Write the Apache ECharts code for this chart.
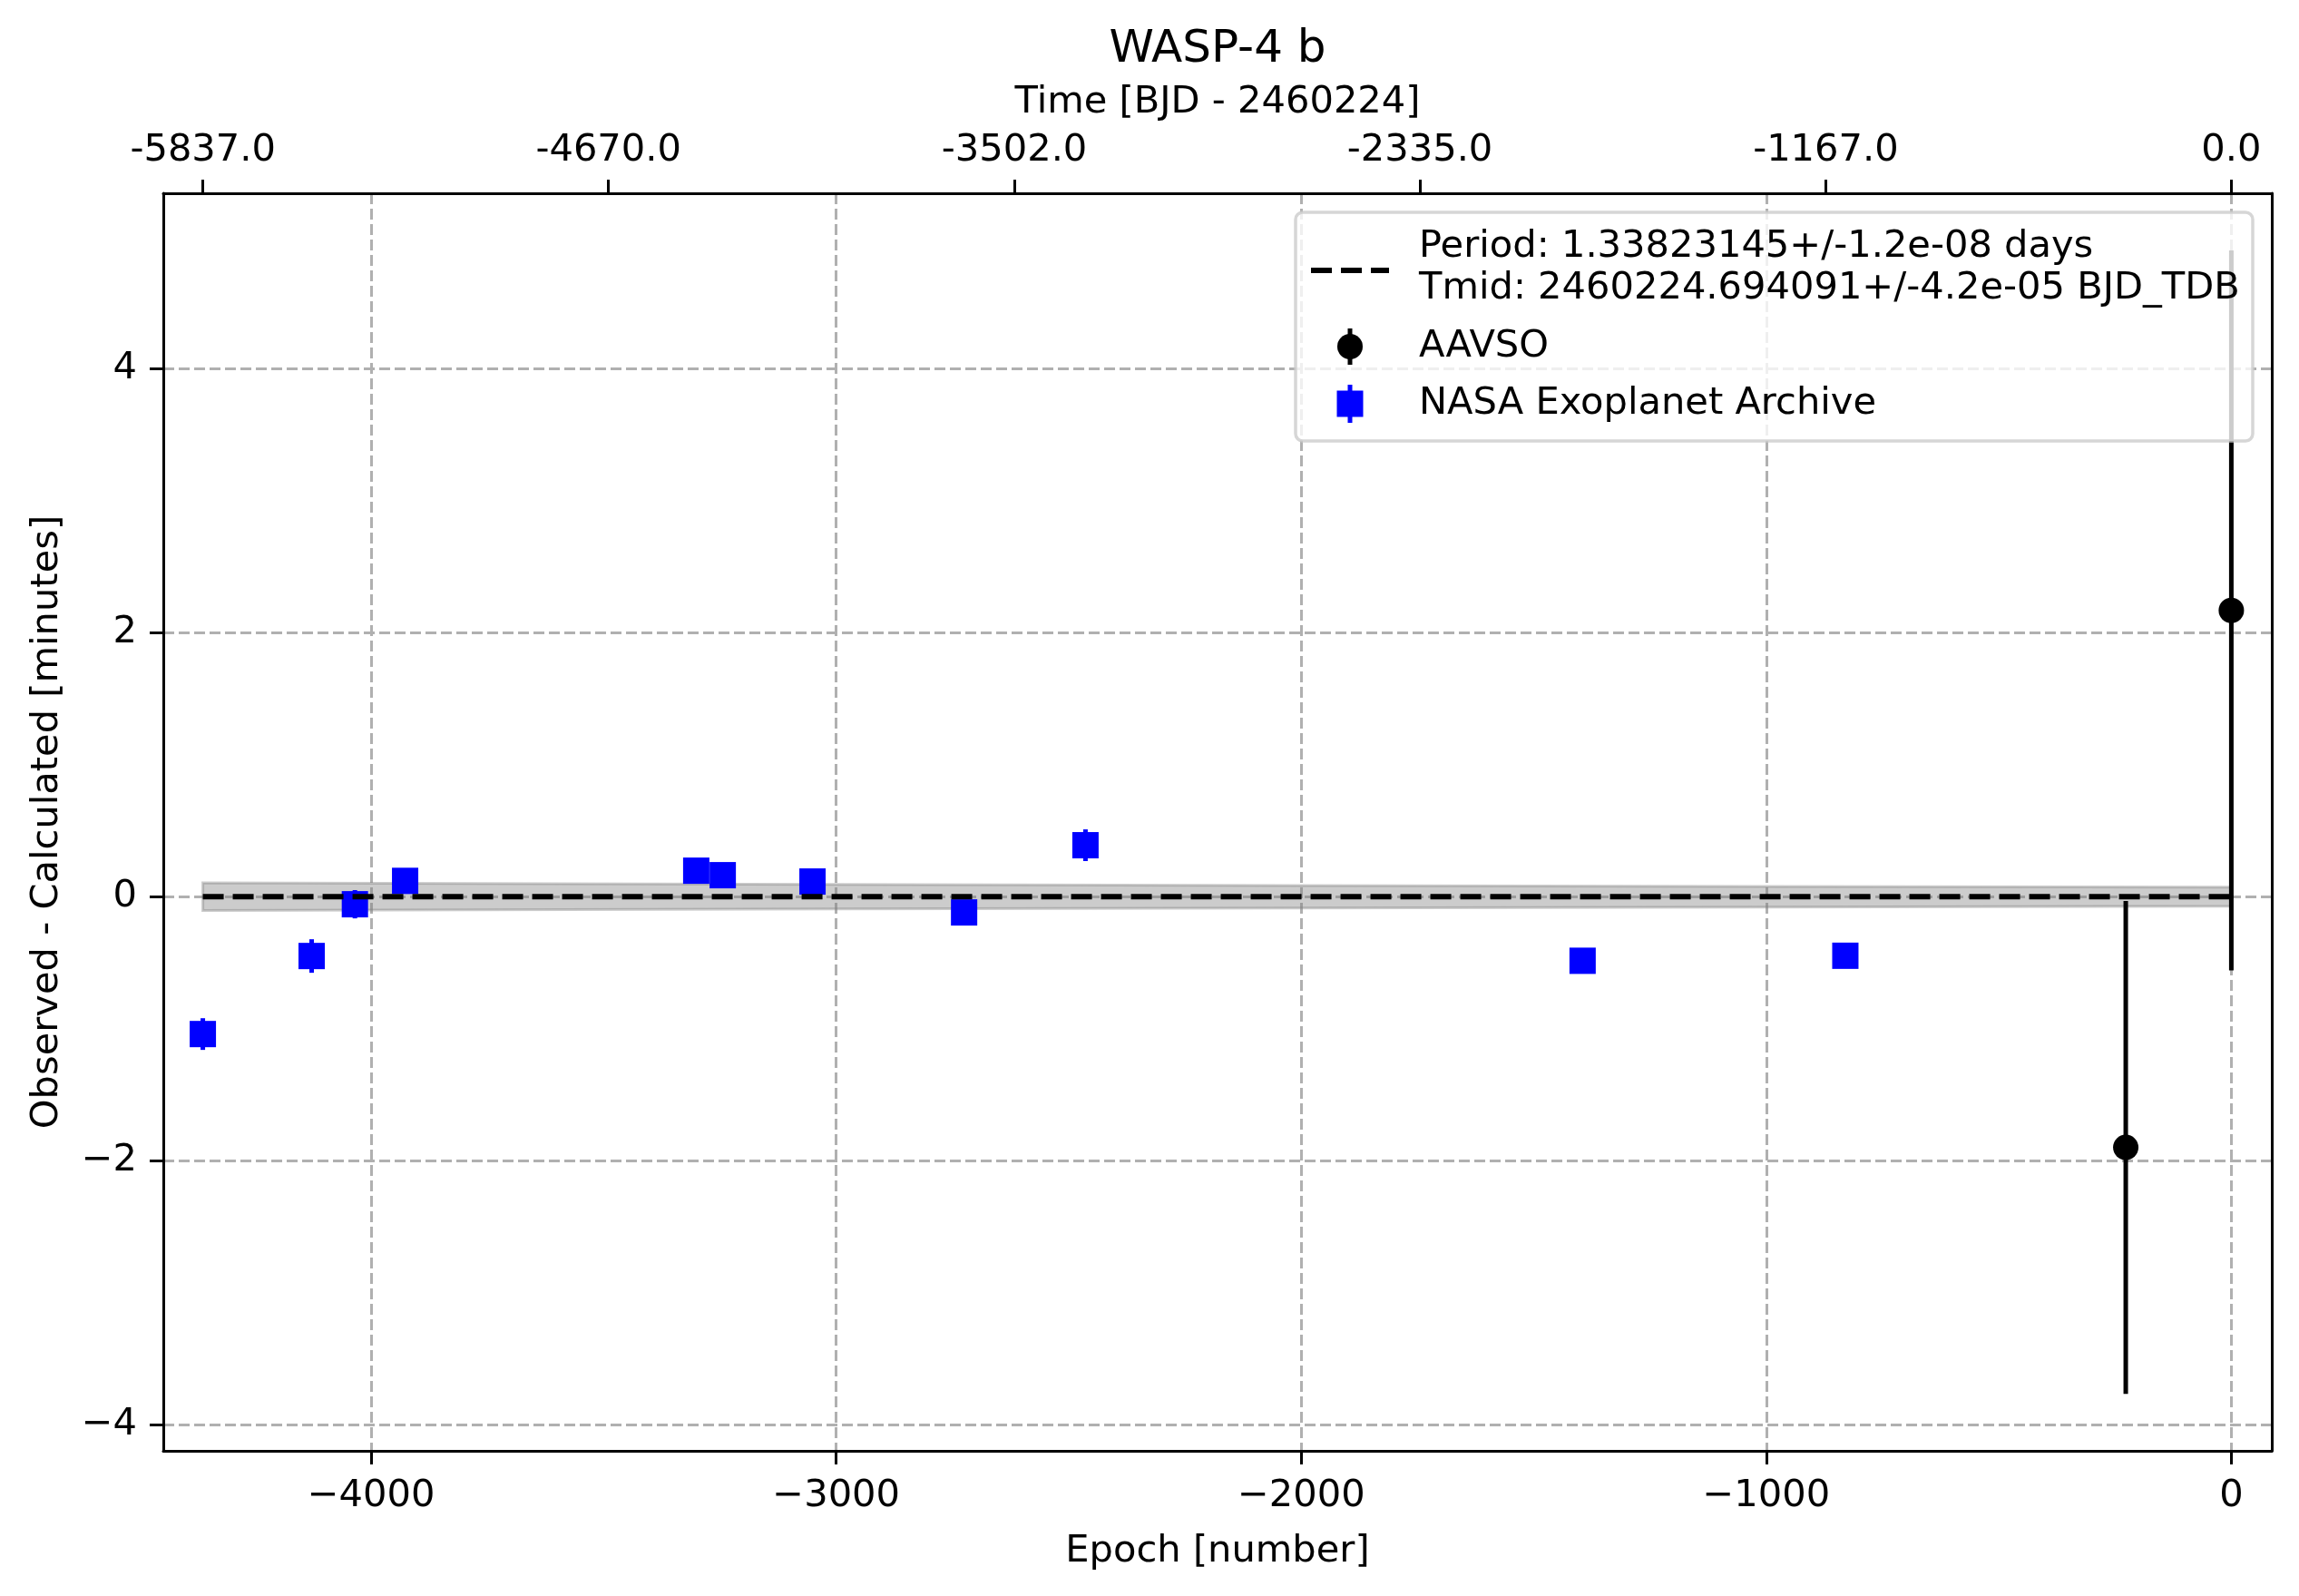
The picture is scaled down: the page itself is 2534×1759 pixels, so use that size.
<!DOCTYPE html>
<html style="height: 100%">
<head>
    <meta charset="utf-8">
</head>
<body style="height: 100%; margin: 0; background: #fff">
<div id="container" style="width: 2534px; height: 1759px"></div>
<script type="text/javascript" src="https://cdn.jsdelivr.net/npm/echarts@6/dist/echarts.min.js"></script>
<script type="text/javascript">
    var period = 1.33823145;

    // NASA Exoplanet Archive mid-transit residuals
    var nasaEpoch = [-4362, -4128, -4035, -3927, -3301, -3244, -3051, -2725, -2464, -1395, -830];
    var nasaOC = [-1.04, -0.449, -0.057, 0.12, 0.197, 0.163, 0.115, -0.119, 0.39, -0.485, -0.447];
    var nasaErr = [0.12, 0.127, 0.107, 0.06, 0.05, 0.05, 0.05, 0.05, 0.12, 0.05, 0.05];

    // AAVSO residuals
    var aavsoEpoch = [-227, 0];
    var aavsoOC = [-1.898, 2.168];
    var aavsoErr = [1.866, 2.726];

    // linear ephemeris and its uncertainty band
    var fitEpoch = [-4362, 0];
    var fitOC = [0, 0];
    var bandEpoch = [-4362, -3000, -2000, -1000, 0];
    var bandHalf = [0.105, 0.093, 0.085, 0.078, 0.072];

    var xTicks = [-4000, -3000, -2000, -1000, 0];
    var yTicks = [-4, -2, 0, 2, 4];
    var topTickTimes = [-5837.0, -4670.0, -3502.0, -2335.0, -1167.0, 0.0];

    var xMin = -4447, xMax = 87;
    var yMin = -4.196, yMax = 5.327;
    var FONT = 'DejaVu Sans';
    var FS = 41.6;

    var dom = document.getElementById("container");
    var myChart = echarts.init(dom);

    function minus(v) {
        return v < 0 ? '\u2212' + Math.abs(v) : '' + v;
    }

    function errorBars(xs, ys, errs, color, width) {
        return {
            type: 'custom',
            z: 2,
            silent: true,
            data: xs.map(function (x, i) {
                return [x, ys[i] - errs[i], ys[i] + errs[i]];
            }),
            encode: {x: 0, y: [1, 2]},
            renderItem: function (params, api) {
                var lo = api.coord([api.value(0), api.value(1)]);
                var hi = api.coord([api.value(0), api.value(2)]);
                return {
                    type: 'line',
                    shape: {x1: lo[0], y1: lo[1], x2: hi[0], y2: hi[1]},
                    style: {stroke: color, lineWidth: width}
                };
            }
        };
    }

    var axisLine = {show: true, onZero: false, lineStyle: {color: '#000', width: 3}};
    var axisTick = {show: true, length: 15, lineStyle: {color: '#000', width: 3}};
    var labelStyle = {color: '#000', fontFamily: FONT, fontSize: FS};
    var txtFont = FS + 'px "DejaVu Sans"';

    var option = {
        animation: false,
        backgroundColor: '#fff',
        grid: {left: 180, top: 213, width: 2324, height: 1386, containLabel: false},
        xAxis: [{
            type: 'value',
            position: 'bottom',
            min: xMin,
            max: xMax,
            axisLine: axisLine,
            axisTick: Object.assign({customValues: xTicks}, axisTick),
            axisLabel: Object.assign({customValues: xTicks, margin: 29, formatter: minus}, labelStyle),
            splitLine: {show: true, lineStyle: {color: '#b0b0b0', width: 3, type: [12, 5]}}
        }, {
            type: 'value',
            position: 'top',
            min: xMin,
            max: xMax,
            axisLine: axisLine,
            axisTick: Object.assign({customValues: topTickTimes.map(function (t) { return t / period; })}, axisTick),
            axisLabel: Object.assign({
                customValues: topTickTimes.map(function (t) { return t / period; }),
                margin: 26,
                formatter: function (v) {
                    var best = topTickTimes[0];
                    topTickTimes.forEach(function (t) {
                        if (Math.abs(t - v * period) < Math.abs(best - v * period)) best = t;
                    });
                    return best.toFixed(1);
                }
            }, labelStyle),
            splitLine: {show: false}
        }],
        yAxis: [{
            type: 'value',
            position: 'left',
            min: yMin,
            max: yMax,
            axisLine: axisLine,
            axisTick: Object.assign({customValues: yTicks}, axisTick),
            axisLabel: Object.assign({customValues: yTicks, margin: 29, formatter: minus}, labelStyle),
            splitLine: {show: true, lineStyle: {color: '#b0b0b0', width: 3, type: [12, 5]}}
        }, {
            type: 'value',
            position: 'right',
            min: yMin,
            max: yMax,
            axisLine: axisLine,
            axisTick: {show: false},
            axisLabel: {show: false},
            splitLine: {show: false}
        }],
        series: [{
            // uncertainty band of the ephemeris
            type: 'custom',
            z: 1,
            silent: true,
            data: bandEpoch.map(function (x, i) { return [x, -bandHalf[i], bandHalf[i]]; }),
            encode: {x: 0, y: [1, 2]},
            renderItem: function (params, api) {
                if (params.dataIndex !== 0) return null;
                var pts = [];
                for (var i = 0; i < bandEpoch.length; i++) {
                    pts.push(api.coord([bandEpoch[i], bandHalf[i]]));
                }
                for (var j = bandEpoch.length - 1; j >= 0; j--) {
                    pts.push(api.coord([bandEpoch[j], -bandHalf[j]]));
                }
                return {
                    type: 'polygon',
                    shape: {points: pts},
                    style: {fill: 'rgba(128,128,128,0.4)', stroke: 'rgba(128,128,128,0.4)', lineWidth: 3}
                };
            }
        },
            errorBars(nasaEpoch, nasaOC, nasaErr, '#0000ff', 5),
            errorBars(aavsoEpoch, aavsoOC, aavsoErr, '#000000', 5),
            {
                name: 'NASA Exoplanet Archive',
                type: 'scatter',
                z: 3,
                symbol: 'rect',
                symbolSize: 29,
                itemStyle: {color: '#0000ff', opacity: 1},
                data: nasaEpoch.map(function (x, i) { return [x, nasaOC[i]]; })
            }, {
                name: 'AAVSO',
                type: 'scatter',
                z: 3,
                symbol: 'circle',
                symbolSize: 28,
                itemStyle: {color: '#000000', opacity: 1},
                data: aavsoEpoch.map(function (x, i) { return [x, aavsoOC[i]]; })
            }, {
                name: 'fit',
                type: 'line',
                z: 4,
                symbol: 'none',
                lineStyle: {color: '#000', width: 6, type: [23, 10]},
                data: fitEpoch.map(function (x, i) { return [x, fitOC[i]]; })
            }],
        graphic: [
            {type: 'text', x: 1342, y: 55, style: {text: 'WASP-4 b', font: '50px "DejaVu Sans"', fill: '#000', align: 'center', verticalAlign: 'middle'}},
            {type: 'text', x: 1342, y: 113, style: {text: 'Time [BJD - 2460224]', font: txtFont, fill: '#000', align: 'center', verticalAlign: 'middle'}},
            {type: 'text', x: 1342, y: 1710, style: {text: 'Epoch [number]', font: txtFont, fill: '#000', align: 'center', verticalAlign: 'middle'}},
            {type: 'text', x: 52, y: 906, rotation: Math.PI / 2, style: {text: 'Observed - Calculated [minutes]', font: txtFont, fill: '#000', align: 'center', verticalAlign: 'middle'}},
            // legend box
            {type: 'rect', zlevel: 1, z: 100, shape: {x: 1428, y: 234, width: 1055, height: 252, r: 8}, style: {fill: 'rgba(255,255,255,0.8)', stroke: 'rgba(204,204,204,0.8)', lineWidth: 3.5}},
            {type: 'line', zlevel: 1, z: 101, shape: {x1: 1445, y1: 298, x2: 1531, y2: 298}, style: {stroke: '#000', lineWidth: 6, lineDash: [23, 10]}},
            {type: 'text', zlevel: 1, z: 101, x: 1564, y: 272, style: {text: 'Period: 1.33823145+/-1.2e-08 days', font: txtFont, fill: '#000', verticalAlign: 'middle'}},
            {type: 'text', zlevel: 1, z: 101, x: 1564, y: 318, style: {text: 'Tmid: 2460224.694091+/-4.2e-05 BJD_TDB', font: txtFont, fill: '#000', verticalAlign: 'middle'}},
            {type: 'line', zlevel: 1, z: 101, shape: {x1: 1488, y1: 362, x2: 1488, y2: 402}, style: {stroke: '#000', lineWidth: 5}},
            {type: 'circle', zlevel: 1, z: 102, shape: {cx: 1488, cy: 382, r: 14}, style: {fill: '#000'}},
            {type: 'text', zlevel: 1, z: 101, x: 1564, y: 382, style: {text: 'AAVSO', font: txtFont, fill: '#000', verticalAlign: 'middle'}},
            {type: 'line', zlevel: 1, z: 101, shape: {x1: 1488, y1: 424, x2: 1488, y2: 466}, style: {stroke: '#0000ff', lineWidth: 5}},
            {type: 'rect', zlevel: 1, z: 102, shape: {x: 1473.5, y: 430.5, width: 29, height: 29}, style: {fill: '#0000ff'}},
            {type: 'text', zlevel: 1, z: 101, x: 1564, y: 445, style: {text: 'NASA Exoplanet Archive', font: txtFont, fill: '#000', verticalAlign: 'middle'}}
        ]
    };

    if (option && typeof option === 'object') {
        myChart.setOption(option);
    }
</script>
</body>
</html>
